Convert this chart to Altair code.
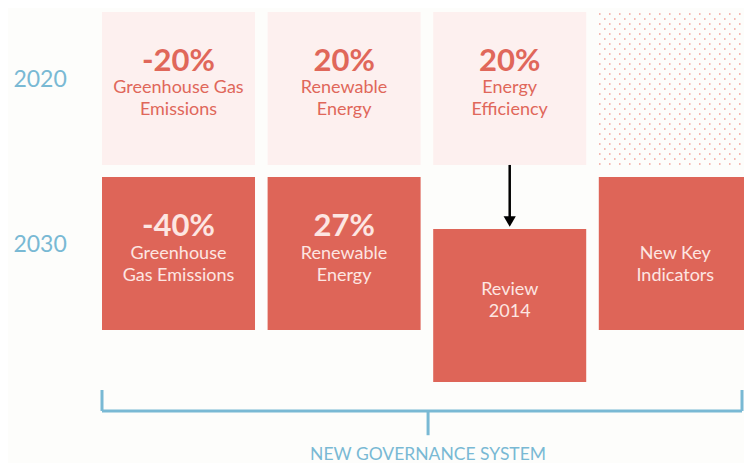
import altair as alt
import pandas as pd
import numpy as np

# ---- content ----
years = ["2020", "2030"]
targets_2020 = ["-20%", "20%", "20%"]
labels_2020 = [["Greenhouse Gas", "Emissions"], ["Renewable", "Energy"], ["Energy", "Efficiency"]]
targets_2030 = ["-40%", "27%", "", ""]
labels_2030 = [["Greenhouse", "Gas Emissions"], ["Renewable", "Energy"], ["Review", "2014"], ["New Key", "Indicators"]]
row_offset_2030 = [0.0, 0.0, 0.315, 0.0]   # Review tile hangs lower
footer = "NEW GOVERNANCE SYSTEM"

# ---- style ----
BG = "#fdfdfb"
LIGHT = "#fdf0ef"
DARK = "#de6558"
RED_TXT = "#e0675a"
PALE_TXT = "#fde6e2"
BLUE = "#79b9d4"
FONT = "Lato"
TW = 0.924   # tile width (column units)
TH = 0.927   # tile height (row units)

W, H = 736, 455
xdom = [-94 / 165.6, (W - 94) / 165.6]
ydom = [-4 / 165, (H - 4) / 165]
xs = alt.Scale(domain=xdom, nice=False, zero=False)
ys = alt.Scale(domain=ydom, nice=False, zero=False, reverse=True)

# tiles
tiles = []
for c in range(len(targets_2020)):
    tiles.append(dict(x=c, x2=c + TW, y=0.0, y2=TH, fill=LIGHT))
for c in range(len(targets_2030)):
    r = 1.0 + row_offset_2030[c]
    tiles.append(dict(x=c, x2=c + TW, y=r, y2=r + TH, fill=DARK))
tiles = pd.DataFrame(tiles)

tile_layer = alt.Chart(tiles).mark_rect(clip=True).encode(
    x=alt.X("x:Q", scale=xs, axis=None), x2="x2:Q",
    y=alt.Y("y:Q", scale=ys, axis=None), y2="y2:Q",
    fill=alt.Fill("fill:N", scale=None),
)

# dotted texture tile (2020, 4th column)
dots = []
nrows = 31
for i in range(nrows):
    yy = 2 / 165 + i * 5 / 165
    off = 0 if i % 2 == 0 else 5 / 165.6
    for j in range(16):
        xx = 1 / 165.6 + off + j * 10 / 165.6
        if xx < TW:
            dots.append(dict(x=3 + xx, y=yy))
dots = pd.DataFrame(dots)
dot_layer = alt.Chart(dots).mark_square(size=1.8, color="#ec7a6e", opacity=0.8, clip=True).encode(
    x=alt.X("x:Q", scale=xs, axis=None), y=alt.Y("y:Q", scale=ys, axis=None)
)

# texts
big, small = [], []
for c, t in enumerate(targets_2020):
    big.append(dict(x=c + TW / 2, y=0.300, t=t, col=RED_TXT))
    for k, line in enumerate(labels_2020[c]):
        small.append(dict(x=c + TW / 2, y=0.462 + k * 0.133, t=line, col=RED_TXT))
for c, t in enumerate(targets_2030):
    r = 1.0 + row_offset_2030[c]
    if t:
        big.append(dict(x=c + TW / 2, y=r + 0.306, t=t, col=PALE_TXT))
        base = 0.468
    elif row_offset_2030[c] > 0:
        base = 0.37
    else:
        base = 0.468
    for k, line in enumerate(labels_2030[c]):
        small.append(dict(x=c + TW / 2, y=r + base + k * 0.133, t=line, col=PALE_TXT))
big = pd.DataFrame(big)
small = pd.DataFrame(small)

big_layer = alt.Chart(big).mark_text(font=FONT, fontSize=31, fontWeight="bold", baseline="middle").encode(
    x=alt.X("x:Q", scale=xs, axis=None), y=alt.Y("y:Q", scale=ys, axis=None),
    text="t:N", color=alt.Color("col:N", scale=None),
)
small_layer = alt.Chart(small).mark_text(font=FONT, fontSize=18, baseline="middle").encode(
    x=alt.X("x:Q", scale=xs, axis=None), y=alt.Y("y:Q", scale=ys, axis=None),
    text="t:N", color=alt.Color("col:N", scale=None),
)

# year labels
yr = pd.DataFrame(dict(x=[-0.374, -0.374], y=[0.412, 1.412], t=years))
yr_layer = alt.Chart(yr).mark_text(font=FONT, fontSize=23, color=BLUE, baseline="middle").encode(
    x=alt.X("x:Q", scale=xs, axis=None), y=alt.Y("y:Q", scale=ys, axis=None), text="t:N"
)

# arrow
arr = pd.DataFrame(dict(x=[2 + TW / 2], y=[TH], y2=[1.25]))
arrow_line = alt.Chart(arr).mark_rule(color="black", strokeWidth=2.5).encode(
    x=alt.X("x:Q", scale=xs, axis=None), y=alt.Y("y:Q", scale=ys, axis=None), y2="y2:Q"
)
head = pd.DataFrame(dict(x=[2 + TW / 2], y=[1.27]))
arrow_head = alt.Chart(head).mark_point(shape="triangle-down", filled=True, color="black", size=150, opacity=1).encode(
    x=alt.X("x:Q", scale=xs, axis=None), y=alt.Y("y:Q", scale=ys, axis=None)
)

# bracket (right end held at the visible edge)
bx0, bx1, bmid = 0.0, (W - 2 - 94) / 165.6, 1.969
yb, ytop, ytick = 2.418, 2.291, 2.565
segs = pd.DataFrame([
    dict(x=bx0, x2=bx1, y=yb, y2=yb),
    dict(x=bx0, x2=bx0, y=ytop, y2=yb),
    dict(x=bx1, x2=bx1, y=ytop, y2=yb),
    dict(x=bmid, x2=bmid, y=yb, y2=ytick),
])
bracket = alt.Chart(segs).mark_rule(color=BLUE, strokeWidth=3).encode(
    x=alt.X("x:Q", scale=xs, axis=None), x2="x2:Q",
    y=alt.Y("y:Q", scale=ys, axis=None), y2="y2:Q",
)
ft = pd.DataFrame(dict(x=[bmid], y=[2.682], t=[footer]))
foot_layer = alt.Chart(ft).mark_text(font=FONT, fontSize=17.5, color=BLUE, baseline="middle").encode(
    x=alt.X("x:Q", scale=xs, axis=None), y=alt.Y("y:Q", scale=ys, axis=None), text="t:N"
)

chart = alt.layer(
    tile_layer, dot_layer, big_layer, small_layer, yr_layer, arrow_line, arrow_head, bracket, foot_layer
).properties(
    width=W, height=H, padding=0, autosize="none", background=BG
).configure_view(stroke=None)

chart.save("out.html", embed_options={"renderer": "svg", "actions": False})
